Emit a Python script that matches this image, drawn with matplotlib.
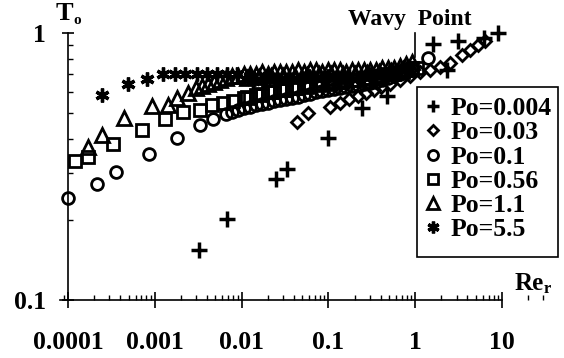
import matplotlib
matplotlib.use("Agg")
import matplotlib.pyplot as plt
from matplotlib.patches import Rectangle
from matplotlib.ticker import LogLocator, NullFormatter

plt.rcParams['font.family'] = ['Liberation Serif', 'DejaVu Serif']
plt.rcParams['font.weight'] = 'bold'

# Po = 0.004
re_004 = [0.00323, 0.00679, 0.0249, 0.0333, 0.0989, 0.244, 0.473, 1.60, 2.32, 3.11, 6.21, 8.99]
to_004 = [0.154, 0.201, 0.284, 0.310, 0.404, 0.524, 0.581, 0.910, 0.727, 0.933, 0.958, 1.0]

# Po = 0.03
re_03 = [0.0434, 0.0582, 0.104, 0.136, 0.173, 0.219, 0.271, 0.335, 0.404, 0.513,
         0.668, 0.871, 1.14, 1.49, 1.93, 2.52, 3.46, 4.28, 5.29, 6.37]
to_03 = [0.464, 0.502, 0.528, 0.547, 0.566, 0.581, 0.596, 0.612, 0.628, 0.644,
         0.667, 0.690, 0.714, 0.727, 0.746, 0.772, 0.827, 0.864, 0.902, 0.933]

# Po = 0.1
re_1 = [0.0001, 0.000216, 0.000357, 0.000857, 0.0018, 0.0033, 0.0047, 0.0066,
        0.00775, 0.00909, 0.0107, 0.0125, 0.0147, 0.0172, 0.0201, 0.0236, 0.0277,
        0.0325, 0.0381, 0.0447, 0.0524, 0.0614, 0.0720, 0.0844, 0.0989, 0.116,
        0.136, 0.160, 0.187, 0.219, 0.257, 0.301, 0.353, 0.415, 0.486, 0.570,
        0.668, 0.783, 0.918, 1.40]
to_1 = [0.241, 0.272, 0.302, 0.352, 0.404, 0.452, 0.476, 0.497,
        0.506, 0.515, 0.524, 0.529, 0.538, 0.542, 0.547, 0.556, 0.561,
        0.566, 0.571, 0.576, 0.586, 0.591, 0.601, 0.606, 0.612, 0.617,
        0.622, 0.627, 0.633, 0.638, 0.644, 0.649, 0.655, 0.667, 0.678, 0.690,
        0.702, 0.714, 0.727, 0.806]

# Po = 0.56
re_56 = [0.000120, 0.000170, 0.000330, 0.000712, 0.00131, 0.00211, 0.00332, 0.00456,
         0.00611, 0.00796, 0.0107, 0.0125, 0.0147, 0.0172, 0.0201, 0.0236, 0.0277,
         0.0325, 0.0381, 0.0447, 0.0524, 0.0614, 0.0720, 0.0844, 0.0989, 0.116,
         0.136, 0.160, 0.187, 0.219, 0.257, 0.301, 0.353, 0.415, 0.486, 0.570,
         0.668, 0.783, 0.918,
         0.0115, 0.0159, 0.0218, 0.030, 0.0413, 0.0567, 0.078, 0.107, 0.147,
         0.202, 0.278, 0.383, 0.527, 0.724, 1.05]
to_56 = [0.332, 0.343, 0.384, 0.433, 0.476, 0.506, 0.515, 0.538,
         0.547, 0.556, 0.571, 0.571, 0.586, 0.586, 0.601, 0.601, 0.612,
         0.612, 0.622, 0.622, 0.633, 0.633, 0.644, 0.644, 0.655, 0.655,
         0.655, 0.667, 0.667, 0.667, 0.678, 0.678, 0.690, 0.690, 0.702, 0.702,
         0.714, 0.727, 0.740,
         0.575, 0.590, 0.600, 0.610, 0.620, 0.630, 0.640, 0.645, 0.655,
         0.665, 0.675, 0.685, 0.700, 0.715, 0.740]

# Po = 1.1
re_11 = [0.000170, 0.000246, 0.000442, 0.000929, 0.00142, 0.00180, 0.00241,
         0.00298, 0.00350, 0.00410, 0.00481, 0.00564, 0.00661, 0.00775, 0.00909,
         0.0107, 0.0125, 0.0147, 0.0172, 0.0201, 0.0236, 0.0277, 0.0325, 0.0381,
         0.0447, 0.0524, 0.0614, 0.0720, 0.0844, 0.0989, 0.116, 0.136, 0.160,
         0.187, 0.219, 0.257, 0.301, 0.353, 0.415, 0.486, 0.570, 0.668, 0.783, 0.918,
         0.0115, 0.0159, 0.0218, 0.030, 0.0413, 0.0567, 0.078, 0.107, 0.147,
         0.202, 0.278, 0.383, 0.527, 0.724]
to_11 = [0.374, 0.415, 0.480, 0.533, 0.538, 0.571, 0.596,
         0.622, 0.633, 0.644, 0.655, 0.667, 0.678, 0.690, 0.690,
         0.702, 0.702, 0.702, 0.714, 0.702, 0.714, 0.714, 0.714, 0.714,
         0.727, 0.714, 0.727, 0.727, 0.714, 0.727, 0.727, 0.727, 0.714,
         0.727, 0.727, 0.727, 0.727, 0.727, 0.740, 0.740, 0.740, 0.752, 0.765, 0.779,
         0.680, 0.685, 0.690, 0.690, 0.690, 0.695, 0.700, 0.700, 0.700,
         0.705, 0.710, 0.715, 0.720, 0.730]

# Po = 5.5
re_55 = [0.000246, 0.000491, 0.000813, 0.00124, 0.00171, 0.00223, 0.00306, 0.00399,
         0.00521, 0.00679, 0.00886, 0.0125, 0.0201, 0.035, 0.06, 0.1, 0.17, 0.3, 0.5, 0.8,
         0.0136, 0.0186, 0.0256, 0.0352, 0.0484, 0.0665, 0.0915, 0.126, 0.173,
         0.237, 0.326, 0.449, 0.618, 0.85]
to_55 = [0.586, 0.644, 0.672, 0.702, 0.702, 0.702, 0.702, 0.702,
         0.702, 0.702, 0.702, 0.690, 0.690, 0.690, 0.690, 0.690, 0.690, 0.700, 0.715, 0.735,
         0.660, 0.665, 0.670, 0.670, 0.675, 0.680, 0.680, 0.685, 0.690,
         0.690, 0.695, 0.700, 0.710, 0.725]

series = [
    (re_004, to_004, '+', 11.0, 2.5, 'Po=0.004'),
    (re_03, to_03, 'D', 6.5, 2.0, 'Po=0.03'),
    (re_1, to_1, 'o', 8.5, 2.0, 'Po=0.1'),
    (re_56, to_56, 's', 8.5, 2.0, 'Po=0.56'),
    (re_11, to_11, '^', 10.0, 2.0, 'Po=1.1'),
    (re_55, to_55, (6, 2, 0), 10.0, 2.4, 'Po=5.5'),
]

W, H = 564, 358
fig = plt.figure(figsize=(W / 100, H / 100), dpi=100)

# axes box in pixels: left 60, right 545, bottom 300, top 25
ax = fig.add_axes([60 / W, (H - 300) / H, 485 / W, 275 / H])
ax.set_xscale('log')
ax.set_yscale('log')
ax.set_xlim(10 ** -4.0922, 10 ** 1.4954)
ax.set_ylim(0.1, 10 ** 0.02996)

for xs, ys, mk, ms, mew, lab in series:
    ax.plot(xs, ys, ls='none', marker=mk, ms=ms, mew=mew, mfc='none',
            mec='black', color='black', label=lab, clip_on=False)

for s in ['top', 'right']:
    ax.spines[s].set_visible(False)
ax.spines['left'].set_position(('data', 1e-4))
ax.spines['left'].set_bounds(0.1, 1)
ax.spines['bottom'].set_bounds(10 ** -4.0922, 10)
for s in ['left', 'bottom']:
    ax.spines[s].set_linewidth(1.2)

ax.set_xticks([1e-4, 1e-3, 1e-2, 0.1, 1, 10])
ax.set_xticklabels(['0.0001', '0.001', '0.01', '0.1', '1', '10'])
ax.set_yticks([0.1, 1])
ax.set_yticklabels(['0.1', '1'])
ax.xaxis.set_minor_locator(LogLocator(base=10, subs=range(2, 10)))
ax.yaxis.set_minor_locator(LogLocator(base=10, subs=range(2, 10)))
ax.xaxis.set_minor_formatter(NullFormatter())
ax.yaxis.set_minor_formatter(NullFormatter())

ax.tick_params(axis='x', which='major', direction='inout', length=11, width=1.2,
               labelsize=18.5, pad=17)
ax.tick_params(axis='x', which='minor', direction='in', length=3.5, width=1.0)
ax.tick_params(axis='y', which='major', direction='inout', length=8, width=1.2,
               labelsize=18.5, pad=12)
ax.tick_params(axis='y', which='minor', direction='in', length=3.5, width=1.0)
for lbl in ax.get_xticklabels() + ax.get_yticklabels():
    lbl.set_fontweight('bold')

# wavy point marker
ax.plot([1.0, 1.0], [0.813, 1.0], color='black', lw=1.2, clip_on=False)


def fpos(px, py):
    return px / W, (H - py) / H


fig.text(*fpos(410, 19), 'Wavy  Point', ha='center', va='center', fontsize=17,
         fontweight='bold')
fig.text(*fpos(56, 14), 'T', ha='left', va='center', fontsize=19, fontweight='bold')
fig.text(*fpos(73, 20), 'o', ha='left', va='center', fontsize=11, fontweight='bold')
fig.text(*fpos(515, 284), 'Re', ha='left', va='center', fontsize=18, fontweight='bold')
fig.text(*fpos(544, 289), 'r', ha='left', va='center', fontsize=12, fontweight='bold')

# legend entries without their own frame; box drawn separately
leg = ax.legend(loc='upper left', bbox_to_anchor=fpos(424, 97),
                bbox_transform=fig.transFigure, borderaxespad=0, frameon=False,
                prop={'family': 'Liberation Serif', 'weight': 'bold', 'size': 18.5},
                handlelength=0.7, handletextpad=0.35, labelspacing=0.05,
                borderpad=0.0, markerscale=0.85)
fig.patches.append(Rectangle(fpos(417, 257), 141 / W, 170 / H, transform=fig.transFigure,
                             fill=False, edgecolor='black', lw=1.2))

fig.savefig('out.png', dpi=100)
